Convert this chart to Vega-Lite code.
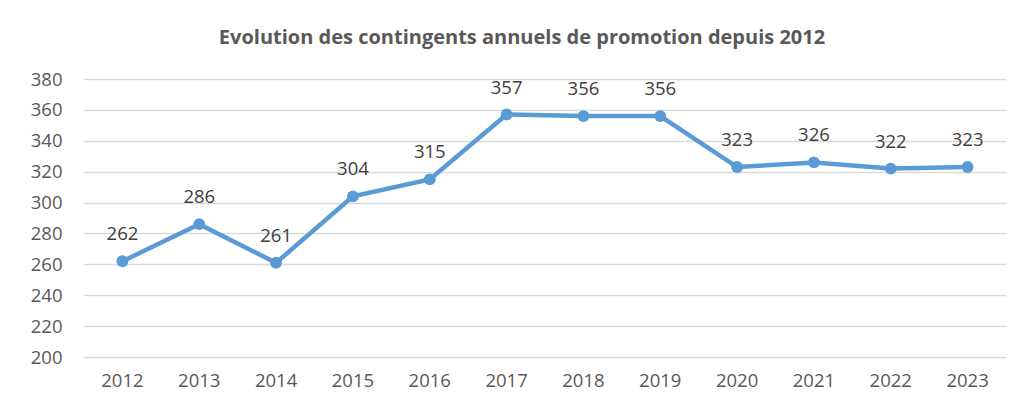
{
  "$schema": "https://vega.github.io/schema/vega-lite/v6.json",
  "autosize": {"type": "none"},
  "width": 922,
  "height": 278,
  "padding": {"left": 84, "top": 79, "right": 18, "bottom": 46},
  "background": "white",
  "config": {"view": {"stroke": null}, "font": "Open Sans"},
  "title": {
    "text": "Evolution des contingents annuels de promotion depuis 2012",
    "anchor": "middle",
    "font": "Open Sans",
    "fontSize": 20,
    "fontWeight": "bold",
    "color": "#595959",
    "offset": 22,
    "dx": -23
  },
  "data": {
    "values": [
      {"annee": "2012", "valeur": 262},
      {"annee": "2013", "valeur": 286},
      {"annee": "2014", "valeur": 261},
      {"annee": "2015", "valeur": 304},
      {"annee": "2016", "valeur": 315},
      {"annee": "2017", "valeur": 357},
      {"annee": "2018", "valeur": 356},
      {"annee": "2019", "valeur": 356},
      {"annee": "2020", "valeur": 323},
      {"annee": "2021", "valeur": 326},
      {"annee": "2022", "valeur": 322},
      {"annee": "2023", "valeur": 323}
    ]
  },
  "encoding": {
    "x": {
      "field": "annee",
      "type": "ordinal",
      "scale": {"type": "band", "paddingInner": 0, "paddingOuter": 0},
      "axis": {
        "title": null,
        "labelAngle": 0,
        "domain": false,
        "ticks": false,
        "grid": false,
        "labelFontSize": 18.5,
        "labelColor": "#595959",
        "labelPadding": 14,
        "labelFont": "Open Sans"
      }
    },
    "y": {
      "field": "valeur",
      "type": "quantitative",
      "scale": {"domain": [200, 380], "nice": false, "zero": false},
      "axis": {
        "title": null,
        "values": [200, 220, 240, 260, 280, 300, 320, 340, 360, 380],
        "domain": false,
        "ticks": false,
        "gridColor": "#d9d9d9",
        "gridWidth": 1.5,
        "labelFontSize": 18.5,
        "labelColor": "#595959",
        "labelPadding": 22,
        "labelFont": "Open Sans"
      }
    }
  },
  "layer": [
    {"mark": {"type": "line", "color": "#5B9BD5", "strokeWidth": 4.5}},
    {"mark": {"type": "point", "filled": true, "opacity": 1, "color": "#5B9BD5", "size": 140}},
    {
      "mark": {"type": "text", "dy": -27, "fontSize": 18.5, "color": "#404040", "font": "Open Sans"},
      "encoding": {"text": {"field": "valeur", "type": "quantitative"}}
    }
  ]
}
